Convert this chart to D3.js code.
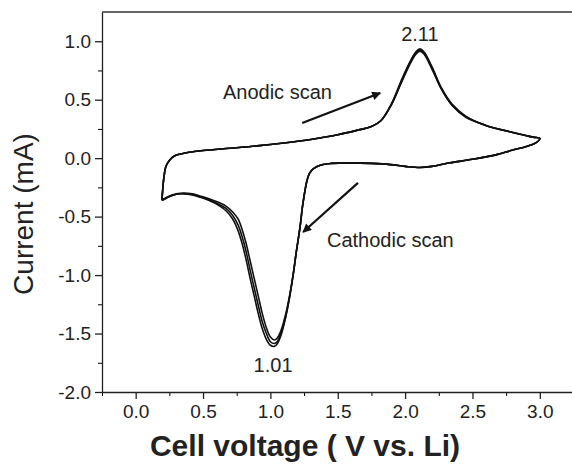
<!DOCTYPE html>
<html>
<head>
<meta charset="utf-8">
<script src="https://cdn.jsdelivr.net/npm/d3@7"></script>
<style>
  html, body { margin: 0; padding: 0; background: #fff; }
  .chart text { font-family: Arial, "Liberation Sans", sans-serif; fill: #222; }
</style>
</head>
<body>
<div class="chart"></div>
<script>
// anodic sweep 0.2 V -> 3.0 V (upper branch)
const anodicV = [0.195, 0.20, 0.21, 0.225, 0.25, 0.29, 0.35, 0.50, 0.70, 0.90, 1.10, 1.30, 1.50, 1.65, 1.75, 1.82, 1.90, 1.97, 2.03, 2.08, 2.11, 2.14, 2.20, 2.27, 2.35, 2.45, 2.60, 2.80, 2.95, 3.00];
const anodicI1 = [-0.36, -0.28, -0.16, -0.07, -0.02, 0.02, 0.04, 0.065, 0.085, 0.105, 0.13, 0.16, 0.20, 0.24, 0.27, 0.32, 0.47, 0.66, 0.81, 0.91, 0.935, 0.91, 0.78, 0.60, 0.46, 0.36, 0.28, 0.22, 0.18, 0.17];
const anodicI2 = [-0.36, -0.28, -0.16, -0.07, -0.02, 0.02, 0.04, 0.065, 0.085, 0.105, 0.13, 0.16, 0.20, 0.24, 0.27, 0.32, 0.46, 0.65, 0.80, 0.90, 0.925, 0.90, 0.77, 0.59, 0.45, 0.355, 0.28, 0.22, 0.18, 0.17];
const anodicI3 = [-0.36, -0.28, -0.16, -0.07, -0.02, 0.02, 0.04, 0.065, 0.085, 0.105, 0.13, 0.16, 0.20, 0.24, 0.27, 0.32, 0.46, 0.64, 0.79, 0.89, 0.915, 0.89, 0.76, 0.59, 0.45, 0.35, 0.28, 0.22, 0.18, 0.17];
// cathodic sweep 3.0 V -> 0.2 V (lower branch)
const cathodicV = [3.00, 2.97, 2.90, 2.80, 2.68, 2.50, 2.33, 2.20, 2.11, 2.00, 1.89, 1.75, 1.60, 1.45, 1.37, 1.32, 1.29, 1.27, 1.24, 1.22, 1.19, 1.17, 1.14, 1.11, 1.08, 1.05, 1.03, 1.00, 0.97, 0.94, 0.91, 0.88, 0.85, 0.82, 0.79, 0.76, 0.72, 0.67, 0.61, 0.55, 0.48, 0.42, 0.33, 0.27, 0.23, 0.195];
const cathodicI1 = [0.17, 0.13, 0.10, 0.07, 0.03, -0.01, -0.04, -0.07, -0.08, -0.07, -0.055, -0.045, -0.04, -0.045, -0.06, -0.09, -0.13, -0.20, -0.40, -0.59, -0.82, -0.99, -1.21, -1.38, -1.51, -1.59, -1.61, -1.60, -1.55, -1.46, -1.33, -1.18, -1.03, -0.87, -0.73, -0.62, -0.52, -0.45, -0.40, -0.365, -0.335, -0.315, -0.305, -0.32, -0.34, -0.36];
const cathodicI2 = [0.17, 0.13, 0.10, 0.07, 0.03, -0.01, -0.04, -0.07, -0.08, -0.07, -0.055, -0.045, -0.04, -0.045, -0.06, -0.09, -0.13, -0.20, -0.40, -0.59, -0.82, -0.99, -1.20, -1.37, -1.49, -1.57, -1.585, -1.57, -1.50, -1.40, -1.26, -1.11, -0.96, -0.80, -0.67, -0.57, -0.49, -0.43, -0.39, -0.36, -0.33, -0.31, -0.305, -0.32, -0.34, -0.36];
const cathodicI3 = [0.17, 0.13, 0.10, 0.07, 0.03, -0.01, -0.04, -0.07, -0.08, -0.07, -0.055, -0.045, -0.04, -0.045, -0.06, -0.09, -0.13, -0.20, -0.40, -0.59, -0.82, -0.99, -1.19, -1.35, -1.47, -1.54, -1.555, -1.53, -1.45, -1.33, -1.18, -1.03, -0.88, -0.73, -0.61, -0.52, -0.46, -0.41, -0.375, -0.35, -0.325, -0.305, -0.30, -0.315, -0.335, -0.36];

const xTicks = [0.0, 0.5, 1.0, 1.5, 2.0, 2.5, 3.0];
const xMinor = [-0.25, 0.25, 0.75, 1.25, 1.75, 2.25, 2.75];
const yTicks = [-2.0, -1.5, -1.0, -0.5, 0.0, 0.5, 1.0];
const yMinor = [-1.75, -1.25, -0.75, -0.25, 0.25, 0.75];

// peak labels and scan annotations, in data units
const peakLabels = [{ v: 2.11, i: 1.0, text: '2.11' }, { v: 1.02, i: -1.83, text: '1.01' }];
const scanLabels = [{ v: 0.648, i: 0.506, text: 'Anodic scan' }, { v: 1.42, i: -0.76, text: 'Cathodic scan' }];
const scanArrows = [[1.236, 0.30, 1.815, 0.557], [1.65, -0.212, 1.243, -0.632]];

let chart = {
  svg: {},
  x: {},
  y: {},
  config: {
    w: 572,
    h: 465,
    left: 102,
    right: 573.5,
    top: 12,
    bottom: 392
  },
  cycles: function () {
    let out = [];
    [[anodicI1, cathodicI1], [anodicI2, cathodicI2], [anodicI3, cathodicI3]].forEach(function (c) {
      let pts = anodicV.map((v, k) => [v, c[0][k]]);
      cathodicV.forEach((v, k) => { if (k > 0) pts.push([v, c[1][k]]); });
      out.push(pts);
    });
    return out;
  },
  init: function () {
    this.svg = d3.select('.chart').append('svg')
      .attr('width', this.config.w)
      .attr('height', this.config.h);
    this.x = d3.scaleLinear().domain([-0.25, 3.25]).range([this.config.left, this.config.right]);
    this.y = d3.scaleLinear().domain([-2.0, 1.25]).range([this.config.bottom, this.config.top]);
    this.render();
  },
  render: function () {
    let c = this.config;
    let svg = this.svg;
    let fmt = d => d.toFixed(1);

    // arrow head
    svg.append('defs').append('marker')
      .attr('id', 'head')
      .attr('viewBox', '0 0 10 10')
      .attr('refX', 9).attr('refY', 5)
      .attr('markerWidth', 5).attr('markerHeight', 4)
      .attr('markerUnits', 'strokeWidth')
      .attr('orient', 'auto')
      .append('path').attr('d', 'M0,0 L10,5 L0,10 z').attr('fill', '#111');

    // minor ticks
    svg.append('g').attr('transform', `translate(0,${c.bottom})`)
      .call(d3.axisBottom(this.x).tickValues(xMinor).tickSize(4).tickFormat(''))
      .call(g => g.select('.domain').remove());
    svg.append('g').attr('transform', `translate(${c.left},0)`)
      .call(d3.axisLeft(this.y).tickValues(yMinor).tickSize(4).tickFormat(''))
      .call(g => g.select('.domain').remove());

    // major axes
    let xa = svg.append('g').attr('transform', `translate(0,${c.bottom})`)
      .call(d3.axisBottom(this.x).tickValues(xTicks).tickSize(7).tickSizeOuter(0).tickPadding(6).tickFormat(fmt));
    let ya = svg.append('g').attr('transform', `translate(${c.left},0)`)
      .call(d3.axisLeft(this.y).tickValues(yTicks).tickSize(7).tickSizeOuter(0).tickPadding(4).tickFormat(fmt));
    [xa, ya].forEach(g => {
      g.selectAll('text').style('font-size', '19px').attr('fill', '#222');
      g.selectAll('line, path').attr('stroke', '#222').attr('stroke-width', 1.3);
    });

    // top border
    svg.append('line')
      .attr('x1', c.left).attr('x2', c.right)
      .attr('y1', c.top).attr('y2', c.top)
      .attr('stroke', '#333').attr('stroke-width', 1.3);

    // CV cycles
    let line = d3.line()
      .x(d => this.x(d[0]))
      .y(d => this.y(d[1]))
      .curve(d3.curveCatmullRom.alpha(0.5));
    svg.append('g').selectAll('path')
      .data(this.cycles())
      .enter().append('path')
      .attr('fill', 'none')
      .attr('stroke', '#111')
      .attr('stroke-width', 1.6)
      .attr('stroke-linejoin', 'round')
      .attr('d', line);

    // annotations
    svg.selectAll('line.arrow')
      .data(scanArrows)
      .enter().append('line')
      .attr('class', 'arrow')
      .attr('x1', d => this.x(d[0])).attr('y1', d => this.y(d[1]))
      .attr('x2', d => this.x(d[2])).attr('y2', d => this.y(d[3]))
      .attr('stroke', '#111').attr('stroke-width', 2.2)
      .attr('marker-end', 'url(#head)');
    svg.selectAll('text.scan')
      .data(scanLabels)
      .enter().append('text')
      .attr('class', 'scan')
      .attr('x', d => this.x(d.v)).attr('y', d => this.y(d.i))
      .style('font-size', '20px')
      .text(d => d.text);
    svg.selectAll('text.peak')
      .data(peakLabels)
      .enter().append('text')
      .attr('class', 'peak')
      .attr('x', d => this.x(d.v)).attr('y', d => this.y(d.i))
      .attr('text-anchor', 'middle')
      .style('font-size', '20px')
      .text(d => d.text);

    // axis titles
    svg.append('text')
      .attr('x', 305)
      .attr('y', 456)
      .attr('text-anchor', 'middle')
      .style('font-size', '30px')
      .style('font-weight', 'bold')
      .text('Cell voltage ( V vs. Li)');
    svg.append('text')
      .attr('transform', 'rotate(-90)')
      .attr('x', -214)
      .attr('y', 33)
      .attr('text-anchor', 'middle')
      .style('font-size', '28px')
      .text('Current (mA)');
  }
};

chart.init();
</script>
</body>
</html>
